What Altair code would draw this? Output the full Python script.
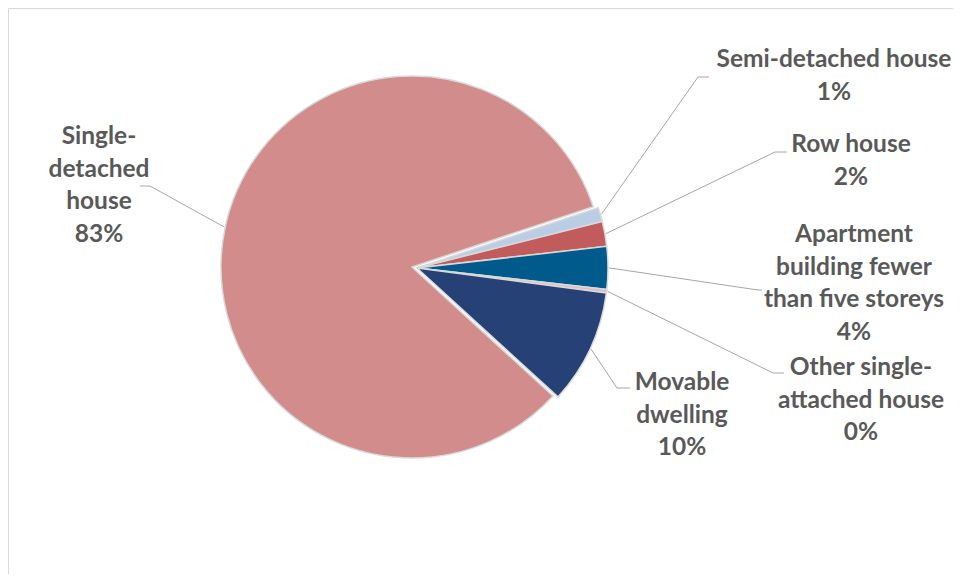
import math
import altair as alt
import pandas as pd

# ---------------- data ----------------
categories = ["Semi-detached house", "Row house",
              "Apartment building fewer than five storeys",
              "Other single-attached house", "Movable dwelling",
              "Single-detached house"]
shares = [1.2, 2.1, 3.6, 0.3, 9.7, 83.1]          # percent
label_lines = [["Semi-detached house"], ["Row house"],
               ["Apartment", "building fewer", "than five storeys"],
               ["Other single-", "attached house"], ["Movable", "dwelling"],
               ["Single-", "detached", "house"]]

# ---------------- style / layout ----------------
colors = ["#B9CDE5", "#C25B5B", "#005A8C", "#E6B9BE", "#254175", "#D28C8C"]
W, H = 945, 566
OFF = 8                       # page margin
start_deg = 71.6              # angle of first slice, clockwise from 12 o'clock
R = 191
center_main = (412 - OFF, 267 - OFF)          # single-detached slice
center_expl = (417 - OFF, 268 - OFF)          # exploded small slices
# label centre x and first-line y (page px); leader elbow / end (page px)
label_pos = [(834, 60), (851, 145), (854, 235), (861, 368), (682, 383), (99, 137)]
leader_elbow = [(698, 77), (775, 152), (758, 290), (773, 373), (617, 388), (150, 186)]
leader_end = [(709, 77), (787, 152), (762, 290), (784, 373), (630, 388), (140, 186)]

# ---------------- tables ----------------
order = list(range(len(categories)))
df = pd.DataFrame({"category": categories, "share": shares, "order": order,
                   "single": [c == "Single-detached house" for c in categories]})

start_rad = math.radians(start_deg)
theta_scale = alt.Scale(domain=[0, 100], range=[start_rad, start_rad + 2 * math.pi])
color_scale = alt.Scale(domain=categories, range=colors)

def pie_layer(is_single, cx, cy):
    return alt.Chart(df).transform_window(
        cum="sum(share)", sort=[alt.SortField("order")], frame=[None, 0]
    ).transform_calculate(
        start="datum.cum - datum.share"
    ).transform_filter(
        alt.datum.single == is_single
    ).mark_arc(radius=R, stroke="#D9D9D9", strokeWidth=1.5).encode(
        theta=alt.Theta("start:Q", scale=theta_scale, stack=None),
        theta2="cum:Q",
        color=alt.Color("category:N", scale=color_scale, legend=None),
        x=alt.value(cx), y=alt.value(cy),
    )

# labels & leaders
lab_rows, lead_rows = [], []
cum = 0.0
for i, (cat, v) in enumerate(zip(categories, shares)):
    mid = start_rad + math.radians((cum + v / 2) * 3.6)
    cum += v
    c = center_main if cat == "Single-detached house" else center_expl
    sx = c[0] + (R + 1) * math.sin(mid)
    sy = c[1] - (R + 1) * math.cos(mid)
    text = "\n".join(label_lines[i] + [f"{round(v)}%"])
    lab_rows.append({"category": cat, "text": text,
                     "lx": label_pos[i][0] - OFF, "ly": label_pos[i][1] - OFF})
    pts = [(sx, sy), (leader_elbow[i][0] - OFF, leader_elbow[i][1] - OFF),
           (leader_end[i][0] - OFF, leader_end[i][1] - OFF)]
    for j, (px, py) in enumerate(pts):
        lead_rows.append({"category": cat, "i": j, "px": px, "py": py})

lab_df = pd.DataFrame(lab_rows)
lead_df = pd.DataFrame(lead_rows)

leaders = alt.Chart(lead_df).mark_line(color="#A6A6A6", strokeWidth=1).encode(
    x=alt.X("px:Q", scale=None), y=alt.Y("py:Q", scale=None),
    detail="category:N", order="i:Q")

labels = alt.Chart(lab_df).mark_text(
    font="Lato", fontWeight="bold", fontSize=24.5, color="#595959",
    align="center", baseline="middle", lineBreak="\n", lineHeight=32.5
).encode(x=alt.X("lx:Q", scale=None), y=alt.Y("ly:Q", scale=None), text="text:N")

chart = alt.layer(
    pie_layer(True, *center_main),
    pie_layer(False, *center_expl),
    leaders, labels,
).properties(width=W, height=H, padding=0, autosize="none", background="white"
).configure_view(stroke="#D9D9D9", strokeWidth=1)

chart.save("out.html", embed_options={"renderer": "svg", "actions": False})
